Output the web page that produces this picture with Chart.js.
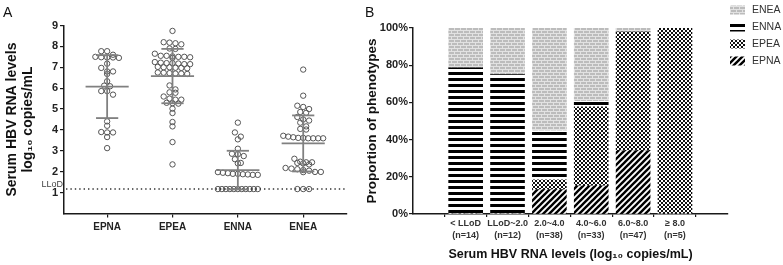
<!DOCTYPE html>
<html>
<head>
<meta charset="utf-8">
<title>Serum HBV RNA levels by phenotype</title>
<script src="https://cdn.jsdelivr.net/npm/chart.js"></script>
<style>
  html, body { margin: 0; padding: 0; background: #fff; }
  .wrap { position: relative; width: 783px; height: 265px; overflow: hidden; }
  #chartA { position: absolute; left: 0; top: 0; }
  #chartB { position: absolute; left: 355px; top: 0; }
</style>
</head>
<body>
<div class="wrap">
  <canvas id="chartA" width="355" height="265"></canvas>
  <canvas id="chartB" width="428" height="265"></canvas>
</div>
<script>
// Panel A - serum HBV RNA (log10 copies/mL) for each phenotype
const phenotypes = ['EPNA', 'EPEA', 'ENNA', 'ENEA'];
const lloD = 1.17;
const yTicksA = [1, 2, 3, 4, 5, 6, 7, 8, 9];

const epnaValues = [7.77, 7.77, 7.6, 7.5, 7.48, 7.47, 7.47, 7.45, 7.17, 6.97, 6.8, 6.8, 6.68,
  6.33, 6.12, 6.09, 5.86, 5.86, 5.69, 4.41, 4.2, 3.9, 3.88, 3.88, 3.66, 3.13];
const epeaValues = [8.74, 8.2, 8.18, 8.15, 8.1, 7.9, 7.88, 7.65,
  7.55, 7.55, 7.52, 7.5, 7.5, 7.48, 7.45,
  7.25, 7.22, 7.2, 7.2, 7.18, 7.15, 7.15,
  7.02, 7.0, 7.0, 6.98, 6.97, 6.95,
  6.75, 6.74, 6.72, 6.7, 6.7, 6.68, 6.13,
  5.94, 5.8, 5.78, 5.6, 5.5, 5.45, 5.45, 5.3, 5.28, 5.26, 5.02, 4.81, 4.38, 4.17,
  3.42, 2.35];
const ennaValues = [4.35, 3.88, 3.68, 3.55, 3.1, 2.86, 2.84, 2.75, 2.6, 2.42, 2.4,
  1.98, 1.95, 1.93, 1.9, 1.9, 1.88, 1.87, 1.85, 1.85,
  1.17, 1.17, 1.17, 1.17, 1.17, 1.17, 1.17, 1.17, 1.17, 1.17, 1.17];
const eneaValues = [6.89, 5.64, 5.16, 5.1, 5.0, 4.86, 4.82, 4.62, 4.5, 4.45, 4.35, 4.17, 4.05, 4.02,
  3.72, 3.68, 3.65, 3.62, 3.62, 3.6, 3.6, 3.6, 3.6, 2.62,
  2.48, 2.45, 2.45, 2.42, 2.4, 2.35,
  2.18, 2.15, 2.12, 2.08, 2.05, 1.99, 1.99, 1.98,
  1.17, 1.17, 1.17];

// Panel B - phenotype counts in each RNA level bin
const binLabels = ['< LLoD', 'LLoD~2.0', '2.0~4.0', '4.0~6.0', '6.0~8.0', '\u2265 8.0'];
const binN = [14, 12, 38, 33, 47, 5];
const epnaCounts = [0, 0, 5, 5, 16, 0];
const epeaCounts = [0, 0, 2, 14, 30, 5];
const ennaCounts = [11, 9, 10, 1, 0, 0];
const eneaCounts = [3, 3, 21, 13, 1, 0];
const yTicksB = [0, 20, 40, 60, 80, 100];

Chart.defaults.font.family = '"Liberation Sans", Arial, sans-serif';
Chart.defaults.color = '#222';

const groupValues = [epnaValues, epeaValues, ennaValues, eneaValues];

// spread points with close values into centred rows (like a scatter dot plot)
const dotStep = 0.09;    // x units between neighbours
const rowWidth = 0.61;   // widest a row may get
const rowGap = 0.2;      // values closer than this share a row
function swarm(values, cx) {
  const sorted = values.slice().sort((a, b) => b - a);
  const rows = [];
  sorted.forEach(v => {
    const row = rows[rows.length - 1];
    if (row && row[0] - v <= rowGap) row.push(v);
    else rows.push([v]);
  });
  const pts = [];
  rows.forEach(row => {
    const n = row.length;
    const step = n > 1 ? Math.min(dotStep, rowWidth / (n - 1)) : 0;
    row.forEach((v, k) => pts.push({ x: cx + (k - (n - 1) / 2) * step, y: v }));
  });
  return pts;
}

function stats(values) {
  const mean = values.reduce((a, b) => a + b, 0) / values.length;
  const sd = Math.sqrt(values.reduce((a, b) => a + (b - mean) * (b - mean), 0) / (values.length - 1));
  return { mean, sd };
}
const groupStats = groupValues.map(stats);

const meanHalf = 0.33;
const capHalf = 0.17;

const meanSdBars = {
  id: 'meanSdBars',
  afterDatasetsDraw(chart) {
    const { ctx, chartArea, scales: { x, y } } = chart;
    ctx.save();
    // LLoD reference line
    ctx.strokeStyle = '#333';
    ctx.lineWidth = 1.4;
    ctx.setLineDash([1.4, 3]);
    ctx.beginPath();
    ctx.moveTo(chartArea.left + 2, y.getPixelForValue(lloD));
    ctx.lineTo(chartArea.right, y.getPixelForValue(lloD));
    ctx.stroke();
    ctx.setLineDash([]);
    ctx.fillStyle = '#444';
    ctx.font = '9px "Liberation Sans", Arial, sans-serif';
    ctx.textAlign = 'right';
    ctx.textBaseline = 'alphabetic';
    ctx.fillText('LLoD', chartArea.left - 1, y.getPixelForValue(lloD) - 2.5);

    ctx.strokeStyle = '#808080';
    ctx.lineWidth = 1.8;
    const seg = (x0, x1, y0, y1) => {
      ctx.beginPath();
      ctx.moveTo(x.getPixelForValue(x0), y.getPixelForValue(y0));
      ctx.lineTo(x.getPixelForValue(x1), y.getPixelForValue(y1));
      ctx.stroke();
    };
    groupStats.forEach((s, i) => {
      const cx = i + 1;
      const hi = s.mean + s.sd, lo = s.mean - s.sd;
      seg(cx, cx, lo, hi);
      seg(cx - meanHalf, cx + meanHalf, s.mean, s.mean);
      seg(cx - capHalf, cx + capHalf, hi, hi);
      seg(cx - capHalf, cx + capHalf, lo, lo);
    });
    ctx.restore();
  }
};

function panelLabel(text, x) {
  return {
    id: 'panelLabel' + text,
    afterDraw(chart) {
      const ctx = chart.ctx;
      ctx.save();
      ctx.fillStyle = '#111';
      ctx.font = '14px "Liberation Sans", Arial, sans-serif';
      ctx.textAlign = 'left';
      ctx.textBaseline = 'alphabetic';
      ctx.fillText(text, x, 17);
      ctx.restore();
    }
  };
}

const axisLine = { color: '#1a1a1a', width: 1.5 };

new Chart(document.getElementById('chartA'), {
  type: 'scatter',
  data: {
    datasets: phenotypes.map((name, i) => ({
      label: name,
      data: swarm(groupValues[i], i + 1),
      pointRadius: 2.7,
      pointBorderWidth: 1,
      pointBorderColor: '#555',
      pointBackgroundColor: 'rgba(255,255,255,0)'
    }))
  },
  options: {
    responsive: false,
    animation: false,
    devicePixelRatio: 1,
    layout: { padding: { top: 25.5, right: 8, left: 0, bottom: 0 } },
    plugins: { legend: { display: false }, tooltip: { enabled: false } },
    scales: {
      x: {
        type: 'linear',
        min: 0.34,
        max: 4.67,
        afterBuildTicks: s => { s.ticks = phenotypes.map((_, i) => ({ value: i + 1 })); },
        afterFit: s => { s.height = 51.5; },
        ticks: { callback: v => phenotypes[v - 1], font: { size: 10, weight: 'bold' }, color: '#222', padding: 4 },
        grid: { drawOnChartArea: false, tickLength: 4, color: '#1a1a1a', lineWidth: 1.2 },
        border: axisLine
      },
      y: {
        min: 0,
        max: 9,
        afterBuildTicks: s => { s.ticks = yTicksA.map(v => ({ value: v })); },
        afterFit: s => { s.width = 64; },
        ticks: { font: { size: 11, weight: 'bold' }, color: '#222', padding: 2 },
        grid: { drawOnChartArea: false, tickLength: 4, color: '#1a1a1a', lineWidth: 1.2 },
        border: axisLine,
        title: {
          display: true,
          text: ['Serum HBV RNA levels', 'log\u2081\u2080 copies/mL'],
          font: { size: 14, weight: 'bold', lineHeight: 1.15 },
          color: '#111',
          padding: { top: 4, bottom: 0 }
        }
      }
    }
  },
  plugins: [meanSdBars, panelLabel('A', 3)]
});

// fill patterns for the stacked bars
function makePattern(size, draw) {
  const c = document.createElement('canvas');
  c.width = size[0];
  c.height = size[1];
  const g = c.getContext('2d');
  draw(g, size[0], size[1]);
  return c.getContext('2d').createPattern(c, 'repeat');
}
const diagonalFill = makePattern([6, 6], (g, w, h) => {
  g.fillStyle = '#fff';
  g.fillRect(0, 0, w, h);
  g.strokeStyle = '#000';
  g.lineWidth = 2.4;
  [[-3, 3, 3, -3], [0, 6, 6, 0], [3, 9, 9, 3]].forEach(l => {
    g.beginPath(); g.moveTo(l[0], l[1]); g.lineTo(l[2], l[3]); g.stroke();
  });
});
const checkerFill = makePattern([4, 4], (g, w, h) => {
  g.fillStyle = '#fff';
  g.fillRect(0, 0, w, h);
  g.fillStyle = '#111';
  g.fillRect(0, 0, 2, 2);
  g.fillRect(2, 2, 2, 2);
});
const stripeFill = makePattern([4, 6], (g, w, h) => {
  g.fillStyle = '#fff';
  g.fillRect(0, 0, w, h);
  g.fillStyle = '#000';
  g.fillRect(0, 0, w, 3);
});
const brickFill = makePattern([6, 6], (g, w, h) => {
  g.fillStyle = '#bcbcbc';
  g.fillRect(0, 0, w, h);
  g.fillStyle = '#e2e2e2';
  g.fillRect(0, 0, w, 1);
  g.fillRect(0, 3, w, 1);
  g.fillRect(0, 1, 1, 2);
  g.fillRect(3, 4, 1, 2);
});

function shares(counts) {
  return counts.map((c, i) => ({ x: i + 1, y: c / binN[i] * 100 }));
}

const patternLegend = {
  id: 'patternLegend',
  afterDraw(chart) {
    const ctx = chart.ctx;
    const sets = chart.data.datasets.slice().reverse();
    ctx.save();
    ctx.font = '10.5px "Liberation Sans", Arial, sans-serif';
    ctx.textAlign = 'left';
    ctx.textBaseline = 'middle';
    sets.forEach((ds, i) => {
      const cy = 10 + i * 17;
      ctx.fillStyle = ds.backgroundColor;
      ctx.fillRect(375, cy - 4.5, 15, 9);
      ctx.fillStyle = '#333';
      ctx.fillText(ds.label, 397, cy + 0.5);
    });
    ctx.restore();
  }
};

new Chart(document.getElementById('chartB'), {
  type: 'bar',
  data: {
    datasets: [
      { label: 'EPNA', data: shares(epnaCounts), backgroundColor: diagonalFill },
      { label: 'EPEA', data: shares(epeaCounts), backgroundColor: checkerFill },
      { label: 'ENNA', data: shares(ennaCounts), backgroundColor: stripeFill },
      { label: 'ENEA', data: shares(eneaCounts), backgroundColor: brickFill }
    ]
  },
  options: {
    responsive: false,
    animation: false,
    devicePixelRatio: 1,
    barThickness: 34,
    borderWidth: 0,
    layout: { padding: { top: 28, right: 55, left: 0, bottom: 0 } },
    plugins: { legend: { display: false }, tooltip: { enabled: false } },
    scales: {
      x: {
        type: 'linear',
        stacked: true,
        min: 0.369,
        max: 6.64,
        afterBuildTicks: s => { s.ticks = binLabels.map((_, i) => ({ value: i + 1 })); },
        afterFit: s => { s.height = 51; },
        ticks: {
          callback: v => [binLabels[v - 1], '(n=' + binN[v - 1] + ')'],
          font: { size: 9, weight: 'bold', lineHeight: 1.28 },
          color: '#333',
          padding: 1
        },
        grid: { drawOnChartArea: false, tickLength: 3, color: '#1a1a1a', lineWidth: 1.2 },
        border: axisLine,
        title: {
          display: true,
          text: 'Serum HBV RNA levels (log\u2081\u2080 copies/mL)',
          font: { size: 12.5, weight: 'bold' },
          color: '#111',
          padding: { top: 0, bottom: 3 }
        }
      },
      y: {
        stacked: true,
        min: 0,
        max: 100,
        afterBuildTicks: s => { s.ticks = yTicksB.map(v => ({ value: v })); },
        afterFit: s => { s.width = 58; },
        ticks: { callback: v => v + '%', font: { size: 11, weight: 'bold' }, color: '#222', padding: 1 },
        grid: { drawOnChartArea: false, tickLength: 4, color: '#1a1a1a', lineWidth: 1.2 },
        border: axisLine,
        title: {
          display: true,
          text: 'Proportion of phenotypes',
          font: { size: 13.5, weight: 'bold' },
          color: '#111',
          padding: { top: 9, bottom: 0 }
        }
      }
    }
  },
  plugins: [patternLegend, panelLabel('B', 10)]
});
</script>
</body>
</html>
